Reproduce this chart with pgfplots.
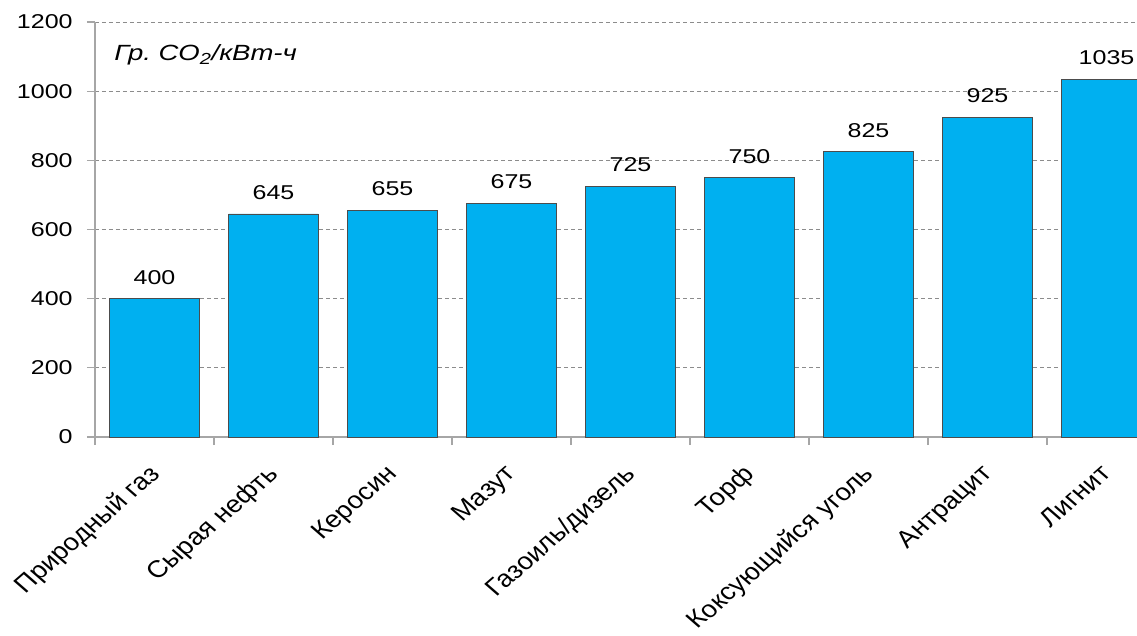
\documentclass[border=0pt]{standalone}
\usepackage{pgfplots}
\pgfplotsset{compat=1.18}
\usepackage{fontspec}
\setmainfont{Liberation Sans}
\definecolor{barcol}{HTML}{00B0F0}
\definecolor{axcol}{HTML}{A6A6A6}
\definecolor{gridcol}{HTML}{8C8C8C}
\begin{document}
\frenchspacing
\begin{tikzpicture}
\begin{axis}[
  scale only axis,
  width=1042pt, height=415pt,
  xmin=-0.5, xmax=8.256,
  ymin=0, ymax=1200,
  enlargelimits=false,
  axis lines*=left,
  axis line style={axcol, line width=1.2pt},
  ytick={0,200,...,1200},
  xtick={0,...,8},
  xticklabels={Природный газ, Сырая нефть, Керосин, Мазут, Газоиль/дизель, Торф, Коксующийся уголь, Антрацит, Лигнит},
  minor xtick={-0.5,0.5,...,7.5},
  major x tick style={draw=none},
  minor x tick style={axcol, line width=1.2pt},
  y tick style={axcol, line width=1.2pt},
  tick align=outside,
  major tick length=8pt,
  minor tick length=8pt,
  ymajorgrids,
  grid style={gridcol, dash pattern=on 4pt off 3pt, line width=0.8pt},
  /pgf/number format/assume math mode=true,
  /pgf/number format/set thousands separator={},
  yticklabel style={font=\fontsize{20}{24}\selectfont, xscale=1.25, anchor=east, xshift=-8pt},
  xticklabel style={font=\fontsize{24}{28}\selectfont, xshift=-8pt, yshift=-18pt, xscale=1.15, rotate=45, anchor=north east, inner sep=0pt},
  ybar, bar width=0.756,
  nodes near coords,
  every node near coord/.append style={font=\fontsize{20}{24}\selectfont, xscale=1.25, anchor=south, inner sep=0pt, yshift=14pt},
]
\addplot[fill=barcol, draw=black!70, line width=0.8pt] coordinates {
(0,400) (1,645) (2,655) (3,675) (4,725) (5,750) (6,825) (7,925) (8,1035)};
\coordinate (O) at (axis cs:-0.5,0);
\node[anchor=west, inner sep=0pt, font=\fontsize{22}{26}\selectfont\itshape, xscale=1.25] at (axis cs:-0.34,1105) {Гр. CO\textsubscript{\fontsize{16}{18}\selectfont 2}/кВт-ч};
\end{axis}
\pgfresetboundingbox
\path[use as bounding box] ([xshift=-95pt,yshift=-198pt]O) rectangle ([xshift=1042pt,yshift=437pt]O);
\end{tikzpicture}
\end{document}
